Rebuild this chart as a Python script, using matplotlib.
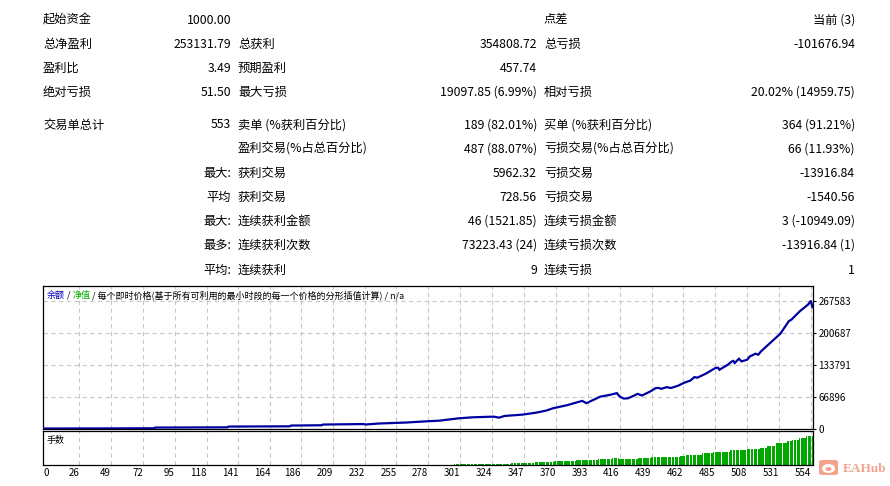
import numpy as np
import matplotlib
matplotlib.use('Agg')
import matplotlib.pyplot as plt
from matplotlib.patches import FancyBboxPatch, Ellipse

plt.rcParams['font.family'] = ['Noto Sans CJK SC', 'DejaVu Sans']

# Tabla de resultados (etiqueta / valor por columna)
fila_y = [20, 44, 68, 92.5, 125, 149, 173.5, 197.5, 221.5, 245.5, 270]
etiquetas_1 = ['起始资金', '总净盈利', '盈利比', '绝对亏损', '交易单总计', '', '', '', '', '', '']
valores_1 = ['1000.00', '253131.79', '3.49', '51.50', '553', '', '最大:', '平均', '最大:', '最多:', '平均:']
etiquetas_2 = ['', '总获利', '预期盈利', '最大亏损', '卖单 (%获利百分比)', '盈利交易(%占总百分比)',
               '获利交易', '获利交易', '连续获利金额', '连续获利次数', '连续获利']
valores_2 = ['', '354808.72', '457.74', '19097.85 (6.99%)', '189 (82.01%)', '487 (88.07%)',
             '5962.32', '728.56', '46 (1521.85)', '73223.43 (24)', '9']
etiquetas_3 = ['点差', '总亏损', '', '相对亏损', '买单 (%获利百分比)', '亏损交易(%占总百分比)',
               '亏损交易', '亏损交易', '连续亏损金额', '连续亏损次数', '连续亏损']
valores_3 = ['当前 (3)', '-101676.94', '', '20.02% (14959.75)', '364 (91.21%)', '66 (11.93%)',
             '-13916.84', '-1540.56', '3 (-10949.09)', '-13916.84 (1)', '1']

# Curva de balance (numero de operacion, balance)
ops_balance = [0, 80, 81, 133, 134, 178, 179, 201, 202, 231, 233, 242, 262, 274, 286,
               300, 310, 325, 329, 333, 346, 356, 363, 368, 378, 389, 392, 402, 409,
               414, 416, 419, 422, 426, 429, 432, 438, 442, 444, 446, 450, 453, 458,
               463, 467, 470, 472, 478, 485, 487, 488, 494, 497, 498, 499, 502, 504,
               508, 510, 514, 516, 518, 532, 538, 540, 546, 552, 554, 555]
balance = [1000, 1500, 3000, 3500, 5100, 5600, 7200, 7800, 9300, 10300, 9400, 11400, 13500,
           15600, 17400, 22300, 24400, 25800, 23700, 27200, 30000, 34200, 38400, 43300,
           49600, 58700, 53800, 67500, 71200, 74800, 67700, 63500, 64000, 69100, 73300,
           69800, 78100, 85200, 85800, 83800, 87300, 85500, 90100, 97000, 101000, 108300,
           107000, 115200, 127100, 128000, 123600, 134000, 141000, 142000, 137600, 146600,
           141000, 144500, 151500, 157000, 155000, 162000, 199000, 224800, 228300, 245700,
           259800, 267600, 254132]

# Lotes: operacion desde la cual rige cada tamano
lote_desde = [297, 338, 355, 369, 385, 401, 411, 416, 430, 439, 460, 464, 476, 484, 496,
              508, 518, 523, 529, 537, 541, 546, 551]
lote_tam = [0.10, 0.23, 0.33, 0.43, 0.53, 0.63, 0.70, 0.60, 0.73, 0.83, 0.93, 1.03, 1.17,
            1.33, 1.50, 1.63, 1.73, 1.93, 2.17, 2.37, 2.53, 2.70, 2.87]
ultima_op = 555

x_ticks = [0, 26, 49, 72, 95, 118, 141, 164, 186, 209, 232, 255, 278, 301, 324, 347,
           370, 393, 416, 439, 462, 485, 508, 531, 554]
y_ticks = [0, 66896, 133791, 200687, 267583]

W, H = 890, 486
fig = plt.figure(figsize=(W / 100, H / 100), dpi=100)
fig.patch.set_facecolor('white')


def px(x, y):
    return x / W, 1 - y / H


# Texto de la tabla
for i, y in enumerate(fila_y):
    fig.text(*px(43, y), etiquetas_1[i], ha='left', va='center', fontsize=8.8)
    fig.text(*px(231, y), valores_1[i], ha='right', va='center', fontsize=8.8)
    fig.text(*px(238, y), etiquetas_2[i], ha='left', va='center', fontsize=8.8)
    fig.text(*px(537, y), valores_2[i], ha='right', va='center', fontsize=8.8)
    fig.text(*px(544, y), etiquetas_3[i], ha='left', va='center', fontsize=8.8)
    fig.text(*px(855, y), valores_3[i], ha='right', va='center', fontsize=8.8)

# Grafica principal
ax = fig.add_axes([43 / W, 1 - 429 / H, 770 / W, 143 / H])
ax2 = fig.add_axes([43 / W, 1 - 465 / H, 770 / W, 34 / H])
xmax = 555.5
grid_kw = dict(color='#c8c8c8', linestyle=(0, (4, 3)), linewidth=0.8, zorder=0)

for a in (ax, ax2):
    a.set_xlim(0, xmax)
    for xt in x_ticks[1:]:
        a.axvline(xt, **grid_kw)
    for s in a.spines.values():
        s.set_linewidth(0.9)
        s.set_color('black')

ax.set_ylim(0, 298300)
for yt in y_ticks[1:]:
    ax.axhline(yt, **grid_kw)
ax.plot(ops_balance, balance, color='#0000a0', linewidth=1.6, zorder=3, solid_joinstyle='miter')
ax.set_xticks([])
ax.set_yticks(y_ticks)
ax.set_yticklabels([str(v) for v in y_ticks])
ax.tick_params(axis='y', left=False, labelleft=False, right=True, labelright=True,
               length=2.5, width=0.8, pad=1.5, labelsize=7, direction='out')

# Panel de lotes
ops_lote = np.arange(lote_desde[0], ultima_op + 1)
lotes = np.array(lote_tam)[np.searchsorted(lote_desde, ops_lote, side='right') - 1]
ax2.bar(ops_lote, lotes, width=0.8, color='#00a800', linewidth=0, zorder=2)
ax2.set_ylim(0, 3.4)
ax2.set_yticks([])
ax2.set_xticks(x_ticks)
ax2.set_xticklabels([str(v) for v in x_ticks])
ax2.tick_params(axis='x', length=0, pad=2, labelsize=7)
for j, lab in enumerate(ax2.get_xticklabels()):
    lab.set_ha('left' if j == 0 else 'right')

# Leyenda multicolor
renderer = fig.canvas.get_renderer()
partes = [('余额', '#0000c0'), (' / ', 'black'), ('净值', '#00b000'),
          (' / 每个即时价格(基于所有可利用的最小时段的每一个价格的分形插值计算) / n/a', 'black')]
xc = 47
for txt, col in partes:
    t = fig.text(*px(xc, 295), txt, ha='left', va='center', fontsize=6.5, color=col)
    xc += t.get_window_extent(renderer).width
fig.text(*px(47, 440), '手数', ha='left', va='center', fontsize=6.5)

# Marca de agua
marca = '#f4a28e'
caja = FancyBboxPatch(px(819, 475), 19 / W, 15 / H, boxstyle='round,pad=0,rounding_size=0.004',
                      transform=fig.transFigure, facecolor=marca, edgecolor='none')
fig.patches.append(caja)
fig.patches.append(Ellipse(px(828.5, 468.5), 13 / W, 9 / H, transform=fig.transFigure,
                           facecolor='white', edgecolor='none'))
fig.patches.append(Ellipse(px(828.5, 469), 6 / W, 4 / H, transform=fig.transFigure,
                           facecolor=marca, edgecolor='none'))
fig.text(*px(843, 469), 'EAHub', ha='left', va='center', fontsize=9.5, color=marca,
         family='Liberation Serif', fontweight='bold')

fig.savefig('out.png', dpi=100, facecolor='white')
